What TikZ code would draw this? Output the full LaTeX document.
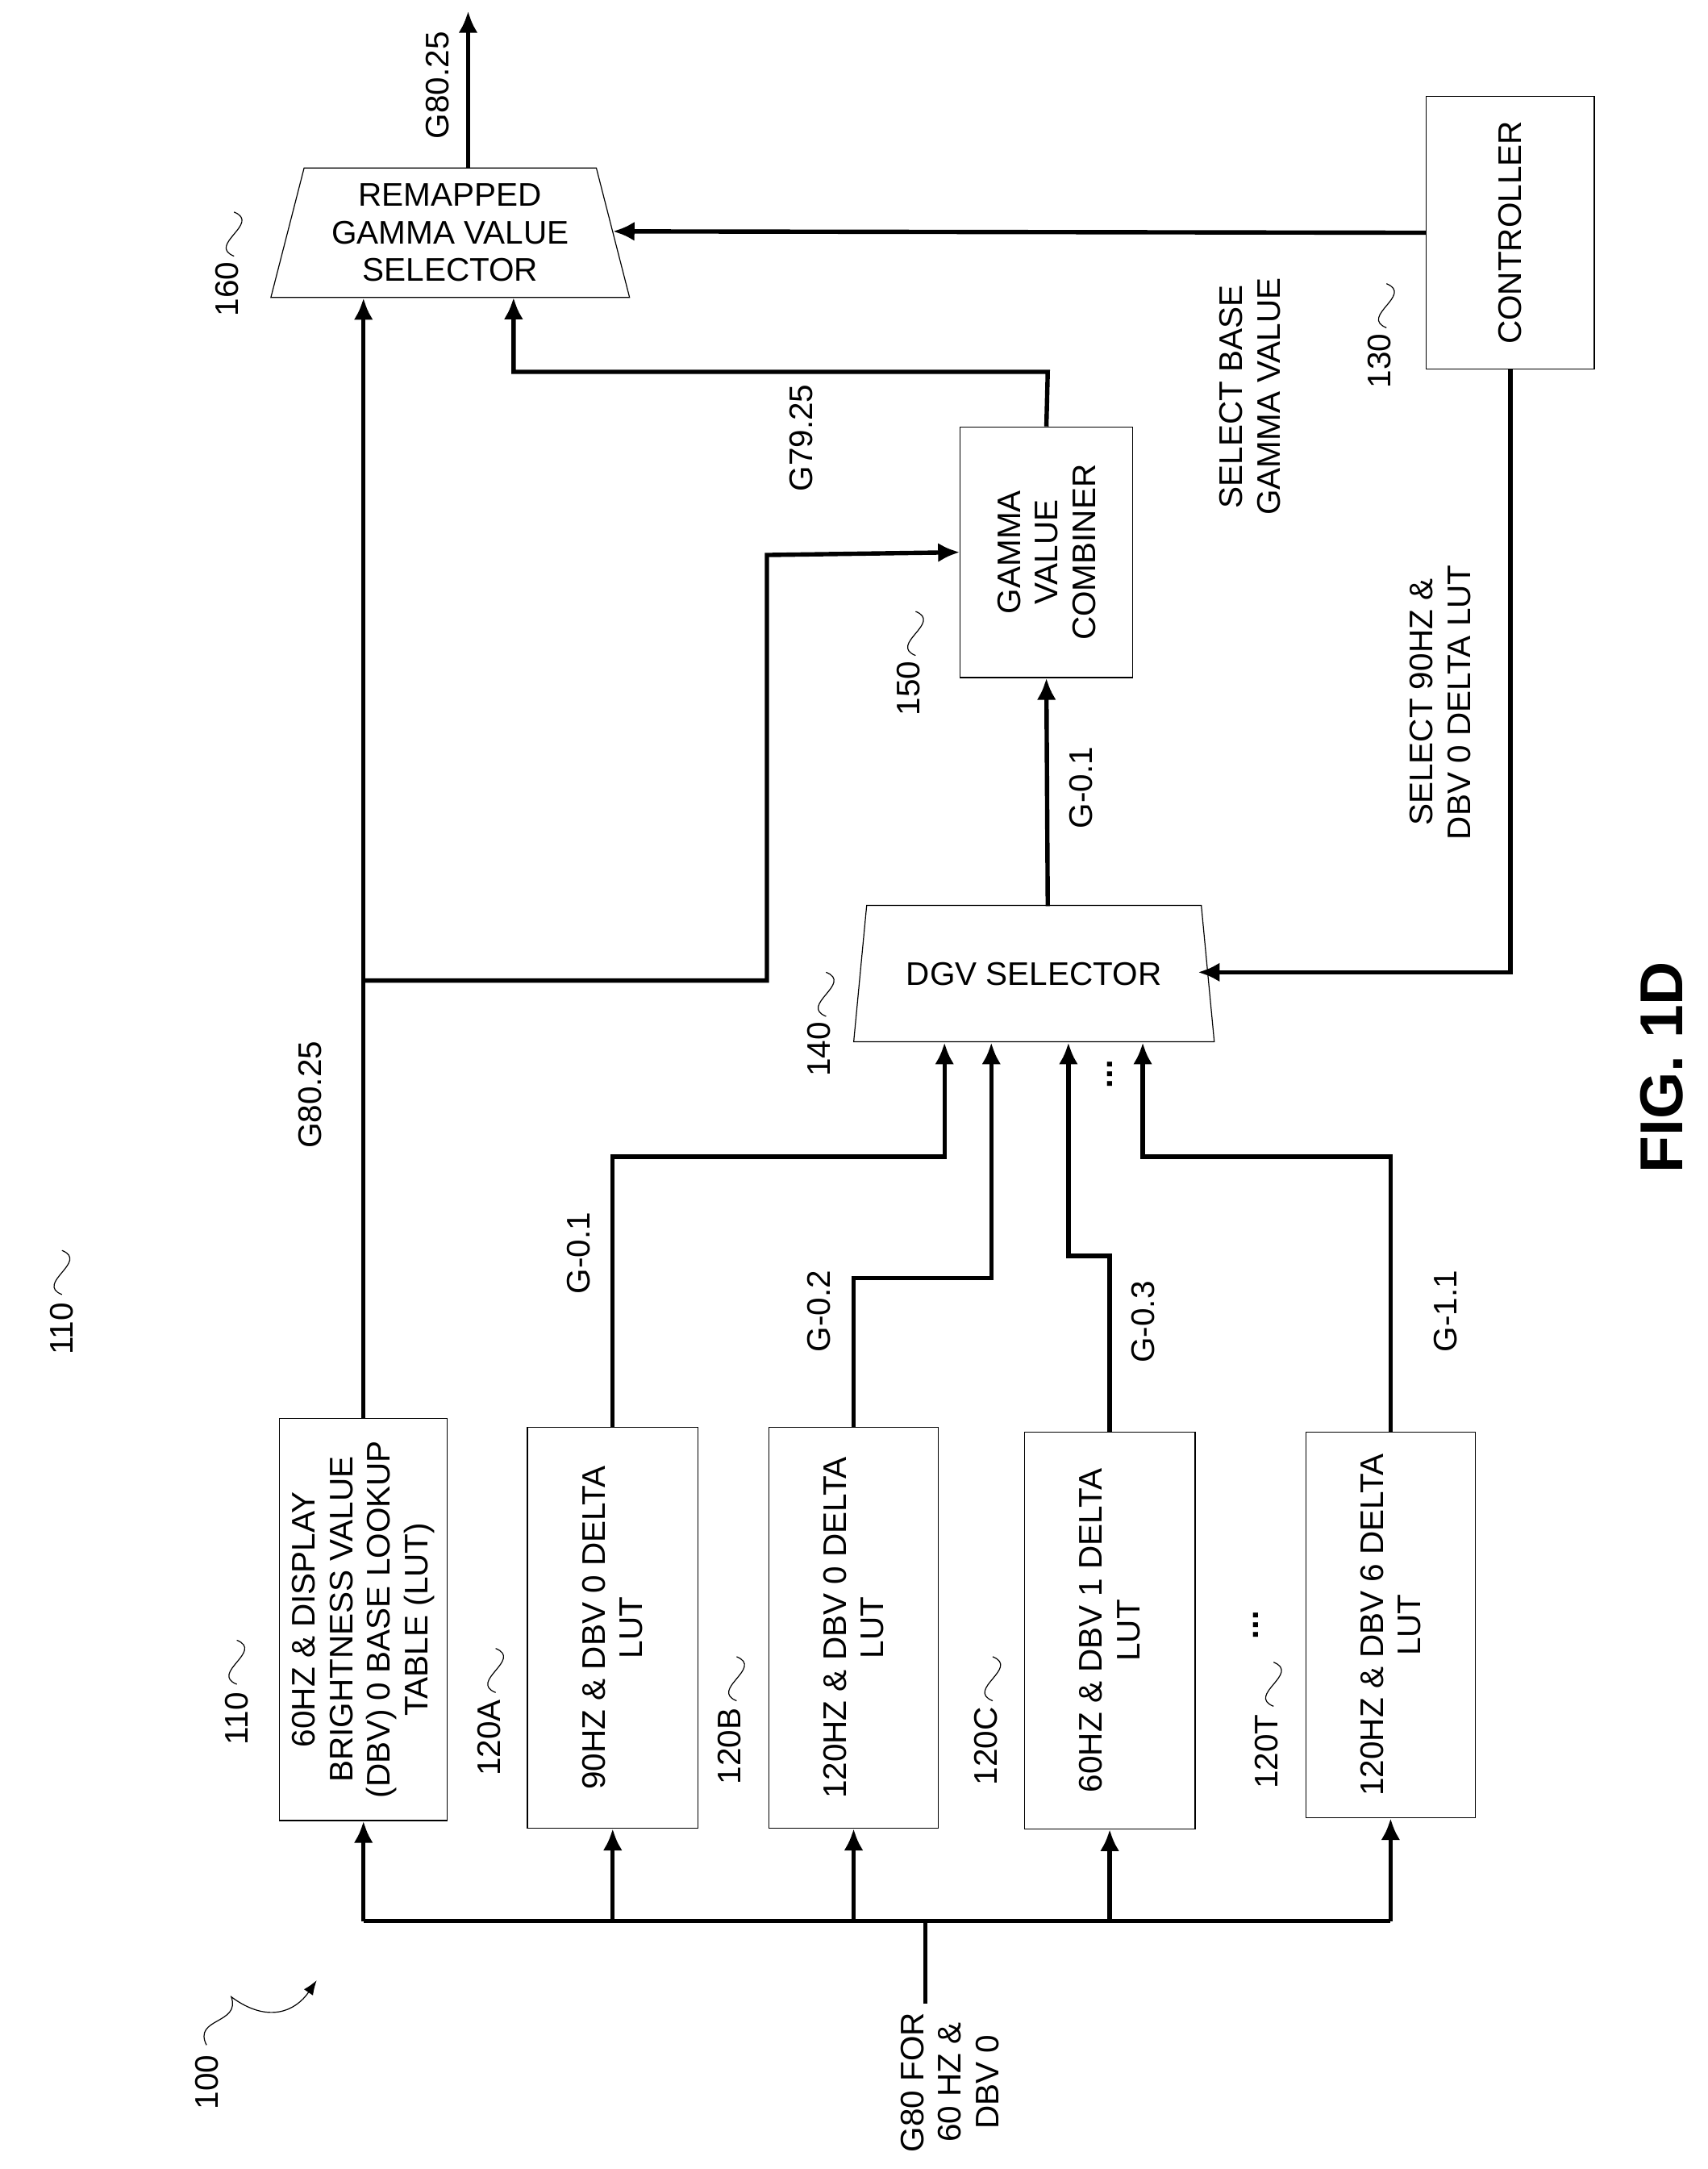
\documentclass[tikz,border=0pt]{standalone}
\usepackage{fontspec}
\setmainfont{Liberation Sans}
\usetikzlibrary{arrows.meta}
\usetikzlibrary{shapes.geometric}
\usetikzlibrary{positioning}
\tikzset{box/.style = {draw, thin, rotate=90, align=center, inner sep=2pt},
  sel/.style = {draw, thin, trapezium, trapezium angle=75, trapezium stretches=true, align=center},
  arr/.style = {line width=1.8pt, -{Latex[length=9pt,width=8pt]}},
  wire/.style = {line width=1.8pt},
  lbl/.style = {rotate=90, align=center}}
\newcommand\squig[2]{\draw (#1,#2) .. controls (#1-20,#2-8) and (#1+20,#2-24) .. (#1,#2-32);}

\begin{document}
\begin{tikzpicture}[x=0.02cm, y=-0.02cm, font=\fontsize{13.5}{15.5}\selectfont]
      \useasboundingbox (0,0) rectangle (1240,1575);

      % lookup tables
      \node [box, minimum width=5.84cm, minimum height=2.44cm] (b110) at (264,1176)
        {60HZ \& DISPLAY\\BRIGHTNESS VALUE\\(DBV) 0 BASE LOOKUP\\TABLE (LUT)};
      \node [box, minimum width=5.82cm, minimum height=2.48cm] (b120A) at (445,1182) {90HZ \& DBV 0 DELTA\\LUT};
      \node [box, minimum width=5.82cm, minimum height=2.46cm] (b120B) at (620,1182) {120HZ \& DBV 0 DELTA\\LUT};
      \node [box, minimum width=5.76cm, minimum height=2.48cm] (b120C) at (806,1184) {60HZ \& DBV 1 DELTA\\LUT};
      \node [box, minimum width=5.6cm, minimum height=2.46cm] (b120T) at (1010,1180) {120HZ \& DBV 6 DELTA\\LUT};

      % selectors, combiner, controller
      \node [sel, minimum width=5.24cm, minimum height=1.98cm] (s140) at (751,707) {DGV SELECTOR};
      \node [sel, minimum width=5.22cm, minimum height=1.88cm, inner sep=1pt] (s160) at (327,169) {REMAPPED\\GAMMA VALUE\\SELECTOR};
      \node [box, minimum width=3.64cm, minimum height=2.5cm] (c150) at (760,401) {GAMMA\\VALUE\\COMBINER};
      \node [box, minimum width=3.96cm, minimum height=2.44cm] (c130) at (1097,169) {CONTROLLER};

      % input bus
      \coordinate (in) at (672,1455);
      \coordinate (bus) at (672,1395);
      \draw [wire] (in) -- (bus);
      \draw [wire] (b110.west |- bus) -- (b120T.west |- bus);
      \foreach \b in {b110, b120A, b120B, b120C, b120T} {
        \draw [arr] (\b.west |- bus) -- (\b.west);
      }

      % base path
      \draw [arr] (b110.east) -- (b110.east |- s160.south);
      \draw [arr] (b110.east |- 0,712) -- (557,712) -- (557,403) -- (c150.north);

      % delta paths
      \draw [arr] (b120A.east) -- (445,840) -- (686,840) -- (686,757);
      \draw [arr] (b120B.east) -- (620,928) -- (720,928) -- (720,757);
      \draw [arr] (b120C.east) -- (806,912) -- (776,912) -- (776,757);
      \draw [arr] (b120T.east) -- (1010,840) -- (830,840) -- (830,757);
      \draw [arr] (761,658) -- (c150.west);
      \draw [arr] (c150.east) -- (761,270) -- (373,270) -- (373,216);
      \draw [arr] (340,122) -- (340,8);

      % control paths
      \draw [arr] (c130.north) -- (445,168);
      \draw [arr] (c130.west) -- (c130.west |- 0,706) -- (870,706);

      % signal labels
      \node [lbl] at (318,62) {G80.25};
      \node [lbl] at (225,795) {G80.25};
      \node [lbl] at (420,910) {G-0.1};
      \node [lbl] at (595,952) {G-0.2};
      \node [lbl] at (830,960) {G-0.3};
      \node [lbl] at (1050,952) {G-1.1};
      \node [lbl] at (785,572) {G-0.1};
      \node [lbl] at (582,318) {G79.25};
      \node [lbl] at (908,288) {SELECT BASE\\GAMMA VALUE};
      \node [lbl] at (1046,510) {SELECT 90HZ \&\\DBV 0 DELTA LUT};
      \node [lbl] at (690,1512) {G80 FOR\\60 HZ \&\\DBV 0};
      \node [lbl, font=\fontsize{14}{15}\selectfont\bfseries] at (806,780) {...};
      \node [lbl, font=\fontsize{14}{15}\selectfont\bfseries] at (912,1180) {...};
      \node [lbl, font=\fontsize{25}{27}\selectfont\bfseries] at (1207,775) {FIG. 1D};

      % reference numerals
      \node [lbl] at (45,965) {110};   \squig{45}{940}
      \node [lbl] at (172,1248) {110}; \squig{172}{1223}
      \node [lbl] at (355,1262) {120A};\squig{360}{1229}
      \node [lbl] at (530,1268) {120B};\squig{535}{1235}
      \node [lbl] at (716,1268) {120C};\squig{721}{1235}
      \node [lbl] at (920,1272) {120T};\squig{925}{1239}
      \node [lbl] at (595,762) {140};  \squig{600}{738}
      \node [lbl] at (660,500) {150};  \squig{665}{476}
      \node [lbl] at (165,210) {160};  \squig{170}{186}
      \node [lbl] at (1002,262) {130}; \squig{1007}{238}
      \node [lbl] at (150,1512) {100};
      \draw [-{Latex[length=6pt]}] (150,1485) .. controls (140,1465) and (175,1470) .. (168,1450) .. controls (195,1470) and (215,1460) .. (230,1438);
    \end{tikzpicture}
\end{document}
